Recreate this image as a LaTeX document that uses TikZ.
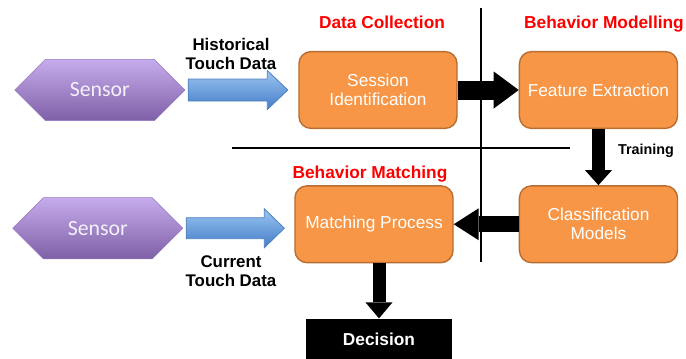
\documentclass[tikz,border=0pt]{standalone}
\usepackage{fontspec}
\setmainfont{Liberation Sans}
\newfontfamily\sensorfont{Carlito}
\usetikzlibrary{arrows.meta,positioning,calc,shapes.symbols}

\definecolor{boxorange}{RGB}{247,150,70}
\definecolor{boxline}{RGB}{184,110,50}
\definecolor{hextop}{RGB}{198,172,236}
\definecolor{hexbot}{RGB}{126,96,166}
\definecolor{hexline}{RGB}{150,120,195}
\definecolor{hextext}{RGB}{244,240,250}
\definecolor{arrtop}{RGB}{155,198,242}
\definecolor{arrbot}{RGB}{68,124,200}
\definecolor{arrline}{RGB}{79,129,189}

\begin{document}
\begin{tikzpicture}[x=0.025cm,y=-0.025cm,>=Latex,
  every node/.style={font=\fontsize{12.3}{13.6}\selectfont},
  proc/.style={draw=boxline,fill=boxorange,rounded corners=0.3cm,line width=1pt,align=center,text=white,minimum width=3.95cm,minimum height=1.92cm},
  sensor/.style={signal,signal to=west and east,draw=hexline,top color=hextop,bottom color=hexbot,minimum width=4.25cm,minimum height=1.53cm,text=hextext,font=\sensorfont\fontsize{15.5}{18}\selectfont},
  stage/.style={text=red,anchor=base,font=\bfseries\fontsize{12.3}{14}\selectfont},
  lbl/.style={align=center,font=\bfseries\fontsize{12}{13.6}\selectfont},
  blockarr/.style={draw=arrline,top color=arrtop,bottom color=arrbot,line width=0.6pt},
  divider/.style={line width=1.6pt}]
\useasboundingbox (0,0) rectangle (686,358);

\draw[divider] (481,8) -- (481,262);
\draw[divider] (232,148) -- (570,148);

\node[proc] (sess) at (378,90) {Session\\Identification};
\node[proc,right=1.525cm of sess] (feat) {Feature Extraction};
\node[proc,below=1.4cm of feat] (cls) {Classification\\Models};
\node[proc,left=1.625cm of cls] (match) {Matching Process};
\node[sensor,left=2.825cm of sess] (sen1) {Sensor};
\node[sensor,left=2.775cm of match,yshift=-0.1cm] (sen2) {Sensor};
\node[fill=black,text=white,font=\bfseries\fontsize{12.3}{14}\selectfont,minimum width=3.65cm,minimum height=1.05cm,below=1.375cm of match,xshift=0.125cm] (dec) {Decision};

\node[stage] at (382,28) {Data Collection};
\node[stage] at (604,28) {Behavior Modelling};
\node[stage] at (370,178) {Behavior Matching};
\node[lbl] (hist) at (231,54) {Historical\\Touch Data};
\node[lbl] (cur) at (231,271.5) {Current\\Touch Data};
\node[lbl,font=\bfseries\fontsize{10.2}{12}\selectfont] (train) at (646,151) {Training};

% blue block arrows
\path[blockarr] ($(sen1.east)+(3,-11)$) -- ($(sess.west |- sen1.east)+(-31,-11)$) -- ($(sess.west |- sen1.east)+(-31,-19.5)$)
  -- ($(sess.west |- sen1.east)+(-10.5,0)$) -- ($(sess.west |- sen1.east)+(-31,19.5)$) -- ($(sess.west |- sen1.east)+(-31,11)$)
  -- ($(sen1.east)+(3,11)$) -- cycle;
\path[blockarr] ($(sen2.east)+(3,-10.5)$) -- ($(match.west |- sen2.east)+(-30,-10.5)$) -- ($(match.west |- sen2.east)+(-30,-19.5)$)
  -- ($(match.west |- sen2.east)+(-10,0)$) -- ($(match.west |- sen2.east)+(-30,19.5)$) -- ($(match.west |- sen2.east)+(-30,10.5)$)
  -- ($(sen2.east)+(3,10.5)$) -- cycle;

% black arrows
\draw[line width=0.475cm,-{Triangle[width=0.925cm,length=0.625cm,line width=0pt]}] (sess) -- (feat);
\draw[line width=0.325cm,-{Triangle[width=0.675cm,length=0.375cm,line width=0pt]}] (feat) -- (cls);
\draw[line width=0.4cm,-{Triangle[width=0.8cm,length=0.625cm,line width=0pt]}] (cls) -- (match);
\draw[line width=0.325cm,-{Triangle[width=0.675cm,length=0.4cm,line width=0pt]}] (dec.north |- match.south) -- (dec.north);
\end{tikzpicture}
\end{document}
